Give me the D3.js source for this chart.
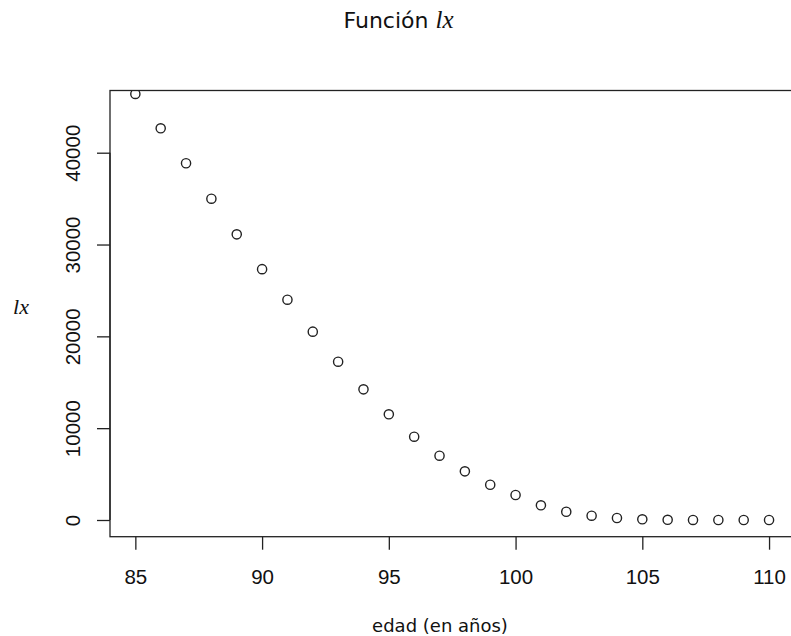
<!DOCTYPE html>
<html>
<head>
<meta charset="utf-8">
<script src="https://cdn.jsdelivr.net/npm/d3@7/dist/d3.min.js"></script>
<style>
  html, body { margin: 0; padding: 0; background: #fff; }
  svg { display: block; }
</style>
</head>
<body>
<svg id="chart" width="791" height="636"></svg>
<script>
// ---- data ----
const ages = [85, 86, 87, 88, 89, 90, 91, 92, 93, 94, 95, 96, 97, 98, 99, 100, 101, 102, 103, 104, 105, 106, 107, 108, 109, 110];
const lx = [46400, 42660, 38850, 34990, 31110, 27320, 23990, 20510, 17240, 14230, 11510, 9070, 7000, 5300, 3840, 2720, 1600, 900, 470, 220, 76, 20, 6, 2, 1, 0];
const xTicks = [85, 90, 95, 100, 105, 110];
const yTicks = [0, 10000, 20000, 30000, 40000];
const titleMain = "Función ";
const titleItalic = "lx";
const xLabel = "edad (en años)";
const yLabel = "lx";

// ---- layout ----
const W = 791, H = 636;
const box = { left: 110, right: 794.4, top: 90.5, bottom: 536.7 };
const xDomain = [84, 111];
const yDomain = [-1819, 46774];

const svg = d3.select("#chart");
svg.append("rect").attr("width", W).attr("height", H).attr("fill", "#fff");

const x = d3.scaleLinear().domain(xDomain).range([box.left, box.right]);
const y = d3.scaleLinear().domain(yDomain).range([box.bottom, box.top]);

const sans = "DejaVu Sans, sans-serif";
const tickSans = "Liberation Sans, Arial, sans-serif";
const tickFont = 20.5;

// clip
svg.append("defs").append("clipPath").attr("id", "plotclip")
  .append("rect")
  .attr("x", box.left).attr("y", box.top)
  .attr("width", box.right - box.left).attr("height", box.bottom - box.top);

// points
svg.append("g").attr("clip-path", "url(#plotclip)")
  .selectAll("circle")
  .data(ages.map((a, i) => ({ a, v: lx[i] })))
  .join("circle")
  .attr("cx", d => x(d.a))
  .attr("cy", d => y(d.v))
  .attr("r", 4.6)
  .attr("fill", "none")
  .attr("stroke", "#222")
  .attr("stroke-width", 1.4);

// box
svg.append("rect")
  .attr("x", box.left).attr("y", box.top)
  .attr("width", box.right - box.left).attr("height", box.bottom - box.top)
  .attr("fill", "none").attr("stroke", "#222").attr("stroke-width", 1.3);

// x axis
const xAxis = d3.axisBottom(x).tickValues(xTicks).tickSize(13).tickSizeOuter(0)
  .tickFormat(d3.format("d"));
const gx = svg.append("g").attr("transform", `translate(0,${box.bottom})`).call(xAxis);
gx.select(".domain").remove();
gx.selectAll(".tick line").attr("stroke", "#222").attr("stroke-width", 1.3);
gx.selectAll(".tick text").attr("font-family", tickSans).attr("font-size", tickFont).attr("fill", "#111")
  .attr("dy", null).attr("y", 47.5);

// y axis
const yAxis = d3.axisLeft(y).tickValues(yTicks).tickSize(13).tickSizeOuter(0).tickFormat(d3.format("d"));
const gy = svg.append("g").attr("transform", `translate(${box.left},0)`).call(yAxis);
gy.select(".domain").remove();
gy.append("line").attr("x1", 0).attr("x2", 0)
  .attr("y1", y(yTicks[0])).attr("y2", y(yTicks[yTicks.length - 1]))
  .attr("stroke", "#222").attr("stroke-width", 1.3);
gy.selectAll(".tick line").attr("stroke", "#222").attr("stroke-width", 1.3);
gy.selectAll(".tick text")
  .attr("font-family", tickSans).attr("font-size", tickFont).attr("fill", "#111")
  .attr("x", null).attr("dy", null)
  .attr("text-anchor", "middle")
  .attr("transform", "translate(-30,0) rotate(-90)");

// title
const t = svg.append("text").attr("x", 398.5).attr("y", 28.3)
  .attr("text-anchor", "middle").attr("fill", "#111")
  .attr("font-family", sans).attr("font-size", 22);
t.append("tspan").text(titleMain);
t.append("tspan").attr("font-family", "Liberation Serif, serif").attr("font-style", "italic")
  .attr("font-size", 25).text(titleItalic);

// x label
svg.append("text").attr("x", 440).attr("y", 632)
  .attr("text-anchor", "middle").attr("fill", "#111")
  .attr("font-family", sans).attr("font-size", 18)
  .text(xLabel);

// y label
svg.append("text").attr("x", 21).attr("y", 314)
  .attr("text-anchor", "middle").attr("fill", "#111")
  .attr("font-family", "Liberation Serif, serif").attr("font-style", "italic")
  .attr("font-size", 22)
  .text(yLabel);
</script>
</body>
</html>
